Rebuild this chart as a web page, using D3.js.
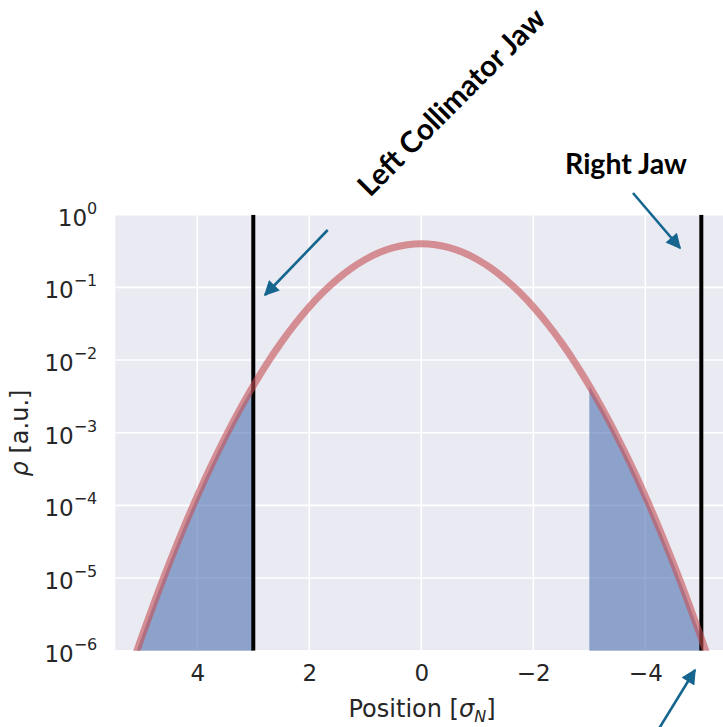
<!DOCTYPE html>
<html>
<head>
<meta charset="utf-8">
<script src="https://cdn.jsdelivr.net/npm/d3@7"></script>
<style>
  body { margin: 0; background: #fff; }
  svg { display: block; }
</style>
</head>
<body>
<div id="chart"></div>
<script>
// beam profile (position in sigma_N, density in a.u.)
var positions = [-5.5, -5.25, -5, -4.75, -4.5, -4.25, -4, -3.75, -3.5, -3.25, -3, -2.75, -2.5, -2.25, -2, -1.75, -1.5, -1.25, -1, -0.75, -0.5, -0.25,
                 0, 0.25, 0.5, 0.75, 1, 1.25, 1.5, 1.75, 2, 2.25, 2.5, 2.75, 3, 3.25, 3.5, 3.75, 4, 4.25, 4.5, 4.75, 5, 5.25, 5.5];
var rho = [1.08e-7, 4.13e-7, 1.49e-6, 5.03e-6, 1.60e-5, 4.77e-5, 1.34e-4, 3.53e-4, 8.73e-4, 2.03e-3, 4.43e-3, 9.09e-3, 1.75e-2, 3.17e-2, 5.40e-2, 8.63e-2, 0.1295, 0.1827, 0.2420, 0.3011, 0.3521, 0.3867,
           0.3989, 0.3867, 0.3521, 0.3011, 0.2420, 0.1827, 0.1295, 8.63e-2, 5.40e-2, 3.17e-2, 1.75e-2, 9.09e-3, 4.43e-3, 2.03e-3, 8.73e-4, 3.53e-4, 1.34e-4, 4.77e-5, 1.60e-5, 5.03e-6, 1.49e-6, 4.13e-7, 1.08e-7];

var jaws = [3, -5];                    // collimator jaw positions
var tails = [[3, 5.5], [-5, -3]];      // shaded halo regions outside the jaws
var xTicks = [4, 2, 0, -2, -4];
var yExponents = [0, -1, -2, -3, -4, -5, -6];

var W = 723, H = 727;
var plotL = 115.3, plotR = 727.3, plotT = 214.7, plotB = 650.7;

var xScale = d3.scaleLinear().domain([5.464, -5.464]).range([plotL, plotR]);
var yScale = d3.scaleLog().domain([1e-6, 1]).range([plotB, plotT]);

var profile = positions.map(function(p, i) { return {x: p, y: rho[i]}; });

var svg = d3.select("#chart").append("svg")
    .attr("width", W)
    .attr("height", H);

var defs = svg.append("defs");
defs.append("clipPath").attr("id", "plotClip")
    .append("rect")
    .attr("x", plotL).attr("y", plotT)
    .attr("width", plotR - plotL).attr("height", plotB - plotT);

var arrowColor = "#15658f";
defs.append("marker")
    .attr("id", "head")
    .attr("viewBox", "0 0 10 10")
    .attr("refX", 9).attr("refY", 5)
    .attr("markerUnits", "userSpaceOnUse")
    .attr("markerWidth", 18).attr("markerHeight", 15)
    .attr("orient", "auto")
    .append("path")
    .attr("d", "M0,0 L10,5 L0,10 Z")
    .attr("fill", arrowColor);

// background + grid
svg.append("rect")
    .attr("x", plotL).attr("y", plotT)
    .attr("width", plotR - plotL).attr("height", plotB - plotT)
    .attr("fill", "#eaeaf2");

var grid = svg.append("g").attr("stroke", "#fff").attr("stroke-width", 1.6);
grid.selectAll("line.v").data(xTicks).enter().append("line")
    .attr("x1", function(d) { return xScale(d); })
    .attr("x2", function(d) { return xScale(d); })
    .attr("y1", plotT).attr("y2", plotB);
grid.selectAll("line.h").data(yExponents).enter().append("line")
    .attr("x1", plotL).attr("x2", plotR)
    .attr("y1", function(d) { return yScale(Math.pow(10, d)); })
    .attr("y2", function(d) { return yScale(Math.pow(10, d)); });

var plot = svg.append("g").attr("clip-path", "url(#plotClip)");

// shaded tails
var area = d3.area()
    .x(function(d) { return xScale(d.x); })
    .y0(plotB + 5)
    .y1(function(d) { return yScale(d.y); })
    .curve(d3.curveMonotoneX);

plot.selectAll("path.tail").data(tails).enter().append("path")
    .attr("d", function(t) {
        var lo = Math.min(t[0], t[1]), hi = Math.max(t[0], t[1]);
        return area(profile.filter(function(d) { return d.x >= lo && d.x <= hi; }));
    })
    .attr("fill", "#4c72b0")
    .attr("fill-opacity", 0.6);

// jaws
plot.selectAll("line.jaw").data(jaws).enter().append("line")
    .attr("x1", function(d) { return xScale(d); })
    .attr("x2", function(d) { return xScale(d); })
    .attr("y1", plotT).attr("y2", plotB)
    .attr("stroke", "#000")
    .attr("stroke-width", 4);

// beam profile
var line = d3.line()
    .x(function(d) { return xScale(d.x); })
    .y(function(d) { return yScale(d.y); })
    .curve(d3.curveMonotoneX);

plot.append("path")
    .datum(profile)
    .attr("d", line)
    .attr("fill", "none")
    .attr("stroke", "#c44e52")
    .attr("stroke-opacity", 0.6)
    .attr("stroke-width", 7);

// x axis
var xAxis = svg.append("g")
    .attr("transform", "translate(0," + plotB + ")")
    .call(d3.axisBottom(xScale).tickValues(xTicks).tickSize(0).tickPadding(14)
        .tickFormat(function(d) { return d < 0 ? "\u2212" + Math.abs(d) : d; }));
xAxis.select(".domain").remove();
xAxis.selectAll("text")
    .attr("font-family", "DejaVu Sans")
    .attr("font-size", 23)
    .attr("fill", "#262626");

svg.append("text")
    .attr("x", 422).attr("y", 717)
    .attr("text-anchor", "middle")
    .attr("font-family", "DejaVu Sans")
    .attr("font-size", 24)
    .attr("fill", "#262626")
    .html("Position [<tspan font-style='italic'>σ</tspan><tspan font-style='italic' font-size='16' dy='5'>N</tspan><tspan dy='-5'>]</tspan>");

// y axis with 10^n labels
var yAxis = svg.append("g")
    .attr("transform", "translate(" + plotL + ",0)")
    .call(d3.axisLeft(yScale).tickValues(yExponents.map(function(e) { return Math.pow(10, e); }))
        .tickSize(0).tickPadding(18).tickFormat(""));
yAxis.select(".domain").remove();
yAxis.selectAll(".tick").each(function(d) {
    var e = Math.round(Math.log10(d));
    var t = d3.select(this).select("text")
        .attr("font-family", "DejaVu Sans")
        .attr("fill", "#262626")
        .attr("dy", "0.45em")
        .attr("font-size", 23);
    t.append("tspan").text("10");
    t.append("tspan").attr("font-size", 16).attr("dy", "-0.75em")
        .text(e < 0 ? "\u2212" + Math.abs(e) : e);
});

svg.append("text")
    .attr("transform", "translate(28,433) rotate(-90)")
    .attr("text-anchor", "middle")
    .attr("font-family", "DejaVu Sans")
    .attr("font-size", 24)
    .attr("fill", "#262626")
    .html("<tspan font-style='italic'>ρ</tspan> [a.u.]");

// annotations
svg.append("text")
    .attr("transform", "translate(370,198) rotate(-45)")
    .attr("font-family", "Lato")
    .attr("font-weight", "bold")
    .attr("font-size", 29.5)
    .attr("fill", "#000")
    .text("Left Collimator Jaw");

svg.append("text")
    .attr("x", 565).attr("y", 174)
    .attr("font-family", "Lato")
    .attr("font-weight", "bold")
    .attr("font-size", 28.5)
    .attr("fill", "#000")
    .text("Right Jaw");

var arrows = [[327.7, 230, 265, 295], [633, 193, 680, 248], [652, 740, 695, 670]];
svg.selectAll("line.arrow").data(arrows).enter().append("line")
    .attr("x1", function(d) { return d[0]; })
    .attr("y1", function(d) { return d[1]; })
    .attr("x2", function(d) { return d[2]; })
    .attr("y2", function(d) { return d[3]; })
    .attr("stroke", arrowColor)
    .attr("stroke-width", 2.6)
    .attr("marker-end", "url(#head)");
</script>
</body>
</html>
